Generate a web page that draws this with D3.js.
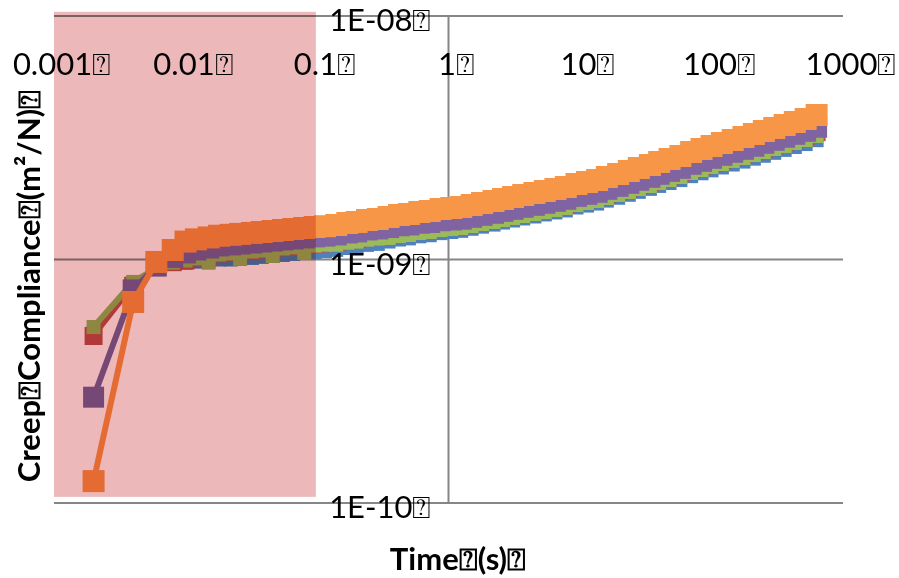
<!DOCTYPE html>
<html>
<head>
<meta charset="utf-8">
<script src="https://cdnjs.cloudflare.com/ajax/libs/d3/7.8.5/d3.min.js"></script>
<style>
  html, body { margin: 0; padding: 0; background: #fff; }
  svg { display: block; }
  text { font-family: Lato, "Open Sans", "DejaVu Sans", sans-serif; fill: #000; }
</style>
</head>
<body>
<div class="canvas"></div>
<script>
const width = 899,
    height = 578;

// time (s)
const times = [0.002, 0.004, 0.006, 0.008, 0.010, 0.012, 0.015, 0.018, 0.022, 0.026,
    0.032, 0.038, 0.046, 0.055, 0.066, 0.08, 0.096, 0.115, 0.14, 0.17,
    0.2, 0.24, 0.29, 0.35, 0.42, 0.5, 0.6, 0.72, 0.87, 1.05,
    1.25, 1.5, 1.8, 2.2, 2.6, 3.1, 3.7, 4.5, 5.4, 6.5,
    7.8, 9.4, 11.3, 13.5, 16, 19.5, 23.5, 28, 34, 40,
    48, 58, 70, 84, 100, 120, 145, 175, 210, 250,
    300, 360, 430, 520, 630];

// creep compliance, in 1E-09 m2/N
const blueVals = [0.50, 0.79, 0.93, 0.96, 0.97, 0.98, 0.99, 1.0, 1.0, 1.006,
    1.015, 1.025, 1.034, 1.044, 1.054, 1.064, 1.074, 1.082, 1.095, 1.115,
    1.127, 1.148, 1.159, 1.185, 1.208, 1.221, 1.245, 1.258, 1.283, 1.297,
    1.311, 1.337, 1.364, 1.391, 1.418, 1.446, 1.474, 1.502, 1.531, 1.560,
    1.590, 1.635, 1.665, 1.697, 1.745, 1.793, 1.844, 1.896, 1.950, 2.005,
    2.061, 2.119, 2.199, 2.260, 2.323, 2.388, 2.455, 2.524, 2.595, 2.667,
    2.742, 2.819, 2.898, 2.979, 3.090];
const redVals = [0.485, 0.78, 0.93, 0.975, 0.99, 1.02, 1.04, 1.06, 1.072, 1.082,
    1.092, 1.102, 1.113, 1.124, 1.134, 1.145, 1.156, 1.165, 1.178, 1.200,
    1.212, 1.235, 1.247, 1.271, 1.295, 1.307, 1.332, 1.345, 1.370, 1.383,
    1.397, 1.423, 1.450, 1.478, 1.506, 1.535, 1.564, 1.594, 1.624, 1.656,
    1.687, 1.736, 1.769, 1.803, 1.855, 1.907, 1.963, 2.020, 2.077, 2.138,
    2.199, 2.262, 2.349, 2.417, 2.486, 2.558, 2.632, 2.707, 2.785, 2.865,
    2.948, 3.033, 3.120, 3.210, 3.334];
const greenVals = [0.528, 0.809, 0.92, 0.97, 0.99, 1.01, 0.97, 1.049, 1.059, 1.006,
    1.079, 1.089, 1.034, 1.110, 1.121, 1.064, 1.142, 1.15, 1.150, 1.172,
    1.184, 1.206, 1.218, 1.226, 1.249, 1.261, 1.285, 1.297, 1.322, 1.334,
    1.347, 1.373, 1.399, 1.426, 1.453, 1.481, 1.509, 1.538, 1.567, 1.597,
    1.628, 1.674, 1.706, 1.739, 1.789, 1.840, 1.893, 1.948, 2.004, 2.062,
    2.121, 2.182, 2.266, 2.331, 2.399, 2.467, 2.539, 2.612, 2.687, 2.764,
    2.844, 2.926, 3.010, 3.096, 3.216];
const purpleVals = [0.272, 0.750, 0.940, 1.02, 1.064, 1.094, 1.115, 1.137, 1.148, 1.158,
    1.169, 1.180, 1.191, 1.203, 1.214, 1.226, 1.238, 1.247, 1.261, 1.285,
    1.298, 1.322, 1.335, 1.353, 1.375, 1.386, 1.409, 1.419, 1.443, 1.453,
    1.464, 1.490, 1.518, 1.548, 1.577, 1.607, 1.638, 1.669, 1.701, 1.734,
    1.767, 1.817, 1.852, 1.888, 1.942, 1.997, 2.055, 2.115, 2.175, 2.238,
    2.302, 2.368, 2.460, 2.530, 2.603, 2.678, 2.755, 2.835, 2.917, 3.000,
    3.087, 3.176, 3.267, 3.361, 3.491];
const orangeVals = [0.123, 0.669, 0.977, 1.094, 1.185, 1.210, 1.232, 1.252, 1.263, 1.274,
    1.286, 1.297, 1.309, 1.322, 1.334, 1.347, 1.360, 1.370, 1.386, 1.412,
    1.426, 1.453, 1.467, 1.495, 1.523, 1.538, 1.567, 1.582, 1.612, 1.627,
    1.643, 1.674, 1.706, 1.739, 1.772, 1.806, 1.840, 1.875, 1.911, 1.948,
    1.985, 2.042, 2.081, 2.121, 2.182, 2.244, 2.309, 2.376, 2.444, 2.515,
    2.587, 2.661, 2.764, 2.843, 2.925, 3.009, 3.096, 3.185, 3.277, 3.371,
    3.468, 3.568, 3.671, 3.776, 3.922];

const xTicks = [0.001, 0.01, 0.1, 1, 10, 100, 1000];
const xTickLabels = ["0.001⍰", "0.01⍰", "0.1⍰", "1⍰", "10⍰", "100⍰", "1000⍰"];
const yTicks = [1e-8, 1e-9, 1e-10];
const yTickLabels = ["1E-08⍰", "1E-09⍰", "1E-10⍰"];

// shaded window (time range and compliance range)
const shadeTime = [0.001, 0.098];
const shadeComp = [1.06e-10, 1.04e-8];

const series = [
    { name: "blue", color: "#4F81BD", values: blueVals, side: 14, lw: 5 },
    { name: "red", color: "#C0504D", values: redVals, side: 18, lw: 5 },
    { name: "green", color: "#9BBB59", values: greenVals, side: 14, lw: 6 },
    { name: "purple", color: "#8064A2", values: purpleVals, side: 21, lw: 6 },
    { name: "orange", color: "#F79646", values: orangeVals, side: 22, lw: 6 }
];

const svg = d3.select('.canvas').append("svg")
    .attr('width', width)
    .attr('height', height);

const x = d3.scaleLog()
    .domain([0.001, 1000])
    .range([54, 843]);
const y = d3.scaleLog()
    .domain([1e-10, 1e-8])
    .range([503, 16]);

// gridlines
svg.append("g").selectAll("line")
    .data(yTicks)
    .enter()
    .append("line")
    .attr("x1", x(0.001))
    .attr("x2", x(1000))
    .attr("y1", d => y(d))
    .attr("y2", d => y(d))
    .attr("stroke", "#868686")
    .attr("stroke-width", 2);

// vertical axis line at t = 1
svg.append("line")
    .attr("x1", x(1)).attr("x2", x(1))
    .attr("y1", y(1e-8)).attr("y2", y(1e-10))
    .attr("stroke", "#868686")
    .attr("stroke-width", 2);

// series
const line = d3.line()
    .x(d => x(d.t))
    .y(d => y(d.c));

series.forEach(s => {
    const pts = times.map((t, i) => ({ t: t, c: s.values[i] * 1e-9 }));
    const g = svg.append("g").attr("class", s.name);
    g.append("path")
        .datum(pts)
        .attr("fill", "none")
        .attr("stroke", s.color)
        .attr("stroke-width", s.lw)
        .attr("stroke-linejoin", "round")
        .attr("d", line);
    g.selectAll("path.marker")
        .data(pts)
        .enter()
        .append("path")
        .attr("class", "marker")
        .attr("fill", s.color)
        .attr("d", d3.symbol().type(d3.symbolSquare).size(s.side * s.side))
        .attr("transform", d => `translate(${x(d.t)},${y(d.c)})`);
});

// x tick labels (axis crosses at the top)
svg.append("g").selectAll("text")
    .data(xTicks)
    .enter()
    .append("text")
    .attr("x", d => x(d) + 8)
    .attr("y", 75)
    .attr("text-anchor", "middle")
    .style("font-size", "31px")
    .text((d, i) => xTickLabels[i]);

// y tick labels (left of the t = 1 axis)
svg.append("g").selectAll("text")
    .data(yTicks)
    .enter()
    .append("text")
    .attr("x", x(1) - 17)
    .attr("y", d => y(d) + 15)
    .attr("text-anchor", "end")
    .style("font-size", "31px")
    .text((d, i) => yTickLabels[i]);

// shaded window, multiplied over everything
svg.append("rect")
    .attr("x", x(shadeTime[0]))
    .attr("y", y(shadeComp[1]))
    .attr("width", x(shadeTime[1]) - x(shadeTime[0]))
    .attr("height", y(shadeComp[0]) - y(shadeComp[1]))
    .attr("fill", "rgb(236,184,185)")
    .style("mix-blend-mode", "multiply");

// axis titles
svg.append("text")
    .attr("x", 458)
    .attr("y", 570)
    .attr("text-anchor", "middle")
    .style("font-size", "31px")
    .style("font-weight", "bold")
    .text("Time⍰(s)⍰");

svg.append("text")
    .attr("transform", "translate(40,286) rotate(-90)")
    .attr("text-anchor", "middle")
    .style("font-size", "31px")
    .style("font-weight", "bold")
    .text("Creep⍰Compliance⍰(m²/N)⍰");
</script>
</body>
</html>
